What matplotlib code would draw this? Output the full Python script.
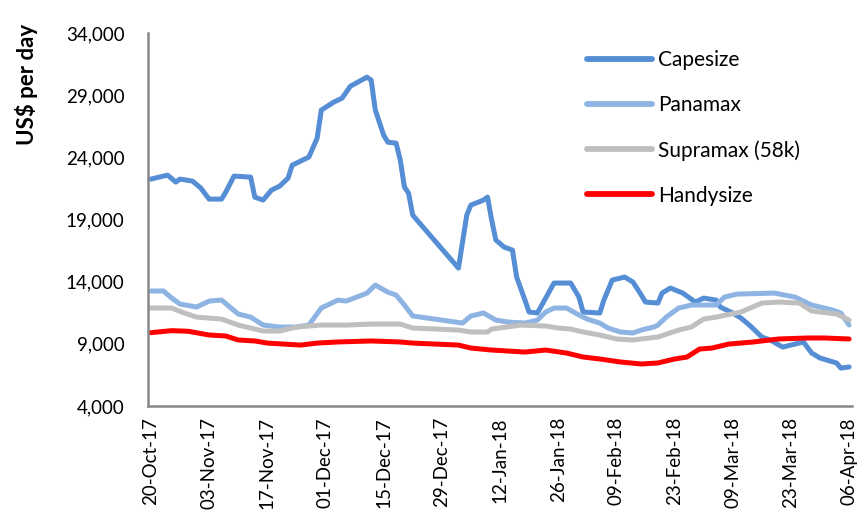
import matplotlib
matplotlib.use("Agg")
import matplotlib.pyplot as plt
import matplotlib.dates as mdates
from matplotlib.ticker import FuncFormatter
import pandas as pd

plt.rcParams['font.family'] = ['Lato', 'DejaVu Sans']

# Capesize
cape_dates = ["2017-10-20", "2017-10-22", "2017-10-24", "2017-10-26", "2017-10-27", "2017-10-30", "2017-11-01",
              "2017-11-03", "2017-11-06", "2017-11-07", "2017-11-09", "2017-11-13", "2017-11-14", "2017-11-16",
              "2017-11-18", "2017-11-20", "2017-11-22", "2017-11-23", "2017-11-27", "2017-11-29", "2017-11-30",
              "2017-12-03", "2017-12-05", "2017-12-07", "2017-12-11", "2017-12-12", "2017-12-13", "2017-12-15",
              "2017-12-16", "2017-12-18", "2017-12-19", "2017-12-20", "2017-12-21", "2017-12-22", "2018-01-02",
              "2018-01-04", "2018-01-05", "2018-01-08", "2018-01-09", "2018-01-10", "2018-01-11", "2018-01-13",
              "2018-01-15", "2018-01-16", "2018-01-18", "2018-01-19", "2018-01-21", "2018-01-23", "2018-01-25",
              "2018-01-29", "2018-01-31", "2018-02-01", "2018-02-05", "2018-02-06", "2018-02-08", "2018-02-11",
              "2018-02-13", "2018-02-15", "2018-02-16", "2018-02-19", "2018-02-20", "2018-02-22", "2018-02-25",
              "2018-02-28", "2018-03-02", "2018-03-05", "2018-03-06", "2018-03-09", "2018-03-11", "2018-03-13",
              "2018-03-16", "2018-03-18", "2018-03-21", "2018-03-23", "2018-03-26", "2018-03-28", "2018-03-30",
              "2018-04-03", "2018-04-04", "2018-04-06"]
cape_values = [22250, 22410, 22570, 22010, 22250, 22090, 21530, 20640, 20640, 21200,
               22490, 22410, 20800, 20560, 21360, 21690, 22330, 23370, 24020, 25540,
               27800, 28440, 28760, 29720, 30450, 30210, 27800, 25790, 25220, 25140,
               23780, 21610, 21120, 19350, 15090, 19350, 20160, 20560, 20800, 18950,
               17350, 16780, 16540, 14370, 12520, 11560, 11480, 12680, 13890, 13890,
               12760, 11560, 11480, 12520, 14130, 14370, 13970, 12920, 12360, 12280,
               13080, 13490, 13080, 12360, 12680, 12520, 11960, 11480, 11070, 10510,
               9550, 9310, 8740, 8900, 9150, 8260, 7860, 7460, 7050, 7140]

# Panamax
pana_dates = ["2017-10-20", "2017-10-23", "2017-10-25", "2017-10-27", "2017-10-31", "2017-11-03", "2017-11-06",
              "2017-11-10", "2017-11-13", "2017-11-16", "2017-11-20", "2017-11-24", "2017-11-27", "2017-11-30",
              "2017-12-04", "2017-12-06", "2017-12-11", "2017-12-13", "2017-12-16", "2017-12-18", "2017-12-20",
              "2017-12-22", "2018-01-03", "2018-01-05", "2018-01-08", "2018-01-11", "2018-01-14", "2018-01-18",
              "2018-01-21", "2018-01-23", "2018-01-25", "2018-01-28", "2018-01-31", "2018-02-02", "2018-02-05",
              "2018-02-07", "2018-02-10", "2018-02-13", "2018-02-15", "2018-02-18", "2018-02-19", "2018-02-21",
              "2018-02-24", "2018-02-27", "2018-03-05", "2018-03-07", "2018-03-10", "2018-03-19", "2018-03-24",
              "2018-03-28", "2018-04-02", "2018-04-04", "2018-04-06"]
pana_values = [13250, 13250, 12680, 12200, 11960, 12440, 12520, 11400, 11150, 10510,
               10350, 10350, 10510, 11880, 12520, 12440, 13080, 13730, 13160, 12920,
               12120, 11240, 10670, 11240, 11480, 10910, 10750, 10670, 10910, 11560,
               11880, 11880, 11320, 10990, 10670, 10270, 9950, 9870, 10110, 10350,
               10510, 11150, 11880, 12120, 12120, 12760, 13000, 13080, 12760, 12120,
               11720, 11480, 10510]

# Supramax (58k)
supra_dates = ["2017-10-20", "2017-10-25", "2017-10-28", "2017-10-31", "2017-11-03", "2017-11-06", "2017-11-10",
               "2017-11-13", "2017-11-16", "2017-11-20", "2017-11-24", "2017-11-30", "2017-12-06", "2017-12-12",
               "2017-12-19", "2017-12-22", "2018-01-02", "2018-01-05", "2018-01-09", "2018-01-10", "2018-01-17",
               "2018-01-23", "2018-01-26", "2018-01-29", "2018-02-01", "2018-02-05", "2018-02-09", "2018-02-13",
               "2018-02-19", "2018-02-24", "2018-02-27", "2018-03-02", "2018-03-05", "2018-03-11", "2018-03-16",
               "2018-03-20", "2018-03-25", "2018-03-28", "2018-04-03", "2018-04-06"]
supra_values = [11880, 11880, 11480, 11150, 11070, 10990, 10510, 10270, 10030, 10030,
                10350, 10510, 10510, 10590, 10590, 10270, 10110, 9950, 9950, 10190,
                10510, 10430, 10270, 10190, 9950, 9710, 9390, 9310, 9550, 10110,
                10350, 10990, 11150, 11560, 12280, 12360, 12280, 11640, 11400, 10910]

# Handysize
handy_dates = ["2017-10-20", "2017-10-25", "2017-10-29", "2017-11-03", "2017-11-07", "2017-11-10", "2017-11-14",
               "2017-11-17", "2017-11-21", "2017-11-25", "2017-11-29", "2017-12-04", "2017-12-12", "2017-12-19",
               "2017-12-22", "2018-01-02", "2018-01-05", "2018-01-10", "2018-01-18", "2018-01-23", "2018-01-28",
               "2018-02-01", "2018-02-05", "2018-02-10", "2018-02-15", "2018-02-19", "2018-02-23", "2018-02-26",
               "2018-03-01", "2018-03-04", "2018-03-08", "2018-03-14", "2018-03-20", "2018-03-27", "2018-03-31",
               "2018-04-06"]
handy_values = [9900, 10060, 10010, 9710, 9630, 9310, 9230, 9060, 8980, 8900,
                9060, 9150, 9230, 9150, 9060, 8900, 8660, 8500, 8340, 8500,
                8260, 7940, 7780, 7540, 7380, 7460, 7780, 7940, 8580, 8660,
                8980, 9150, 9390, 9470, 9470, 9390]

series = [
    ("Capesize", cape_dates, cape_values, "#558ED5"),
    ("Panamax", pana_dates, pana_values, "#8DB4E2"),
    ("Supramax (58k)", supra_dates, supra_values, "#BFBFBF"),
    ("Handysize", handy_dates, handy_values, "#FF0000"),
]

fig = plt.figure(figsize=(8.61, 5.24), dpi=100)
ax = fig.add_axes([148 / 861, 1 - 406 / 524, (852 - 148) / 861, (406 - 33) / 524])

for name, d, v, c in series:
    ax.plot(pd.to_datetime(d), v, color=c, lw=3.6, label=name,
            solid_joinstyle='round', solid_capstyle='round')

start = pd.Timestamp("2017-10-20")
end = pd.Timestamp("2018-04-06")
ax.set_xlim(start - pd.Timedelta(days=0.7), end + pd.Timedelta(days=0.7))
ax.set_xticks(pd.date_range(start, end, freq="14D"))
ax.xaxis.set_major_formatter(mdates.DateFormatter("%d-%b-%y"))
ax.set_ylim(4000, 34000)
ax.set_yticks(range(4000, 34001, 5000))
ax.yaxis.set_major_formatter(FuncFormatter(lambda x, p: f"{int(x):,}"))

ax.tick_params(axis='x', length=0, pad=8, labelsize=13.5, rotation=90)
ax.tick_params(axis='y', length=0, pad=17, labelsize=13.5)
for s in ["top", "right"]:
    ax.spines[s].set_visible(False)
for s in ["left", "bottom"]:
    ax.spines[s].set_color("#888888")
    ax.spines[s].set_linewidth(1.8)

fig.text(27 / 861, 1 - 84 / 524, "US$ per day", rotation=90, ha='center', va='center',
         fontsize=16, fontweight='bold')

leg = ax.legend(loc='upper left', bbox_to_anchor=(587 / 861, 1 - 50 / 524), bbox_transform=fig.transFigure,
                frameon=False, fontsize=15, handlelength=3.1, handletextpad=0.3, labelspacing=1.2,
                borderpad=0, borderaxespad=0)
for line in leg.get_lines():
    line.set_linewidth(4.2)

fig.savefig("out.png", dpi=100)
